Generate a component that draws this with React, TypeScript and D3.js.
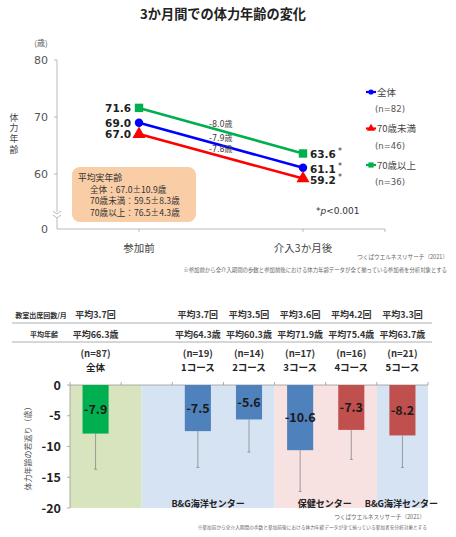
import React from "react";
import * as d3 from "d3";

// ---------- Top chart data ----------
const timeCats = ["参加前", "介入3か月後"];
const groupNames = ["全体", "70歳未満", "70歳以上"];
const groupN = [82, 46, 36];
const beforeVals = [69.0, 67.0, 71.6];
const afterVals = [61.1, 59.2, 63.6];
const diffVals = [-7.9, -7.8, -8.0];
const topTicks = [60, 70, 80];
const realAgeLines = ["全体：67.0±10.9歳", "70歳未満：59.5±8.3歳", "70歳以上：76.5±4.3歳"];

// ---------- Bottom chart data ----------
const slots = ["全体", "_gap", "1コース", "2コース", "3コース", "4コース", "5コース"];
const barCats = ["全体", "1コース", "2コース", "3コース", "4コース", "5コース"];
const barVals = [-7.9, -7.5, -5.6, -10.6, -7.3, -8.2];
const barErrLow = [-13.7, -13.4, -10.9, -17.3, -12.1, -13.4];
const barN = [87, 19, 14, 17, 16, 21];
const attendance = ["平均3.7回", "平均3.7回", "平均3.5回", "平均3.6回", "平均4.2回", "平均3.3回"];
const meanAge = ["平均66.3歳", "平均64.3歳", "平均60.3歳", "平均71.9歳", "平均75.4歳", "平均63.7歳"];
const bottomTicks = [0, -5, -10, -15, -20];
const regionNames = ["", "B&G海洋センター", "保健センター", "B&G海洋センター"];
const regionStart = [0, 1.4, 4, 6];
const regionEnd = [1.4, 4, 6, 7];

const lineColors = ["#0000ff", "#ff0000", "#00b050"];
const barColors = ["#00b050", "#4f81bd", "#4f81bd", "#4f81bd", "#c0504d", "#c0504d"];
const regionColors = ["#d7e4bd", "#d6e3f3", "#f7e1e1", "#d6e3f3"];

const JP = "'Noto Sans CJK JP', sans-serif";
const NUM = "'DejaVu Sans', 'Noto Sans CJK JP', sans-serif";

function Marker({ i, x, y, s }: { i: number; x: number; y: number; s: number }) {
  const c = lineColors[i];
  if (i === 0) return <circle cx={x} cy={y} r={s} fill={c} />;
  if (i === 1)
    return <path d={d3.symbol(d3.symbolTriangle, s * s * 4.2)()!} transform={`translate(${x},${y})`} fill={c} />;
  return <rect x={x - s} y={y - s} width={s * 2} height={s * 2} fill={c} />;
}

export default function App() {
  // top scales
  const x = d3.scalePoint<string>().domain(timeCats).range([57, 385]).padding(0.5);
  const y = d3.scaleLinear().domain([60, 80]).range([174, 60]);
  const zeroY = 229;

  // bottom scales
  const xb = d3.scaleBand<string>().domain(slots).range([70, 428]).paddingInner(0.49).paddingOuter(0.245);
  const step = xb.step();
  const x0 = 70;
  const yb = d3.scaleLinear().domain([0, -20]).range([385, 508]);

  const x1 = x(timeCats[0])!;
  const x2 = x(timeCats[1])!;
  const xm = (x1 + x2) / 2;

  return (
    <svg width={456} height={537} style={{ position: "absolute", left: 0, top: 0, background: "#fff" }}>
      {/* ===== Top chart ===== */}
      <text x={223} y={19} textAnchor="middle" fontFamily={JP} fontWeight="bold" fontSize={13.2} fill="#222">
        3か月間での体力年齢の変化
      </text>
      <text x={41} y={46} textAnchor="middle" fontFamily={JP} fontSize={8} fill="#555">(歳)</text>
      {/* y axis */}
      <line x1={57} x2={57} y1={60} y2={212} stroke="#aaa" strokeWidth={0.8} />
      <line x1={57} x2={57} y1={218} y2={zeroY} stroke="#aaa" strokeWidth={0.8} />
      <path d="M53,211 L57,214 L61,211 M53,215 L57,218 L61,215" fill="none" stroke="#aaa" strokeWidth={0.8} />
      {topTicks.map((t) => (
        <g key={t}>
          <line x1={54} x2={57} y1={y(t)} y2={y(t)} stroke="#aaa" strokeWidth={0.8} />
          <text x={48} y={y(t) + 4} textAnchor="end" fontFamily={NUM} fontSize={11} fill="#555">{t}</text>
        </g>
      ))}
      <text x={48} y={zeroY + 4} textAnchor="end" fontFamily={NUM} fontSize={11} fill="#555">0</text>
      {/* x axis */}
      <line x1={57} x2={385} y1={zeroY} y2={zeroY} stroke="#aaa" strokeWidth={0.8} />
      {[...timeCats.map((c) => x(c)!), 385].map((p, i) => (
        <line key={i} x1={p} x2={p} y1={zeroY} y2={zeroY + 3} stroke="#aaa" strokeWidth={0.8} />
      ))}
      {timeCats.map((c) => (
        <text key={c} x={x(c)!} y={252} textAnchor="middle" fontFamily={JP} fontSize={10.5} fill="#444">{c}</text>
      ))}
      {/* y title (vertical writing) */}
      <text x={14} y={113} fontFamily={JP} fontSize={8.8} fill="#444"
        style={{ writingMode: "vertical-rl", letterSpacing: "1.9px" }}>
        体力年齢
      </text>
      {/* real-age box */}
      <rect x={72} y={167} width={124} height={55} rx={8} fill="#f9cda6" />
      <text x={78} y={180.5} fontFamily={JP} fontSize={8.8} fill="#333">平均実年齢</text>
      {realAgeLines.map((l, i) => (
        <text key={i} x={90} y={192.5 + i * 11.5} fontFamily={JP} fontSize={8.6} fill="#333">{l}</text>
      ))}
      {/* lines */}
      {groupNames.map((g, i) => (
        <g key={g}>
          <line x1={x1} y1={y(beforeVals[i])} x2={x2} y2={y(afterVals[i])} stroke={lineColors[i]} strokeWidth={2.6} />
          <Marker i={i} x={x1} y={y(beforeVals[i])} s={4.2} />
          <Marker i={i} x={x2} y={y(afterVals[i])} s={4.2} />
          <text x={131} y={y(beforeVals[i]) + 4} textAnchor="end" fontFamily={NUM} fontWeight="bold" fontSize={10.5} fill="#222">
            {beforeVals[i].toFixed(1)}
          </text>
          <text x={310} y={y(afterVals[i]) + 5} fontFamily={NUM} fontWeight="bold" fontSize={10.5} fill="#222">
            {afterVals[i].toFixed(1)}
          </text>
          <text x={338} y={y(afterVals[i]) + 1} fontFamily={NUM} fontSize={8} fill="#333">*</text>
          <text x={xm - 12} y={(y(beforeVals[i]) + y(afterVals[i])) / 2 - 4} fontFamily={NUM} fontSize={8} fill="#444">
            {diffVals[i].toFixed(1)}歳
          </text>
        </g>
      ))}
      <text x={316} y={214} fontFamily={NUM} fontSize={9} fill="#333">
        *<tspan fontStyle="italic">p</tspan>&lt;0.001
      </text>
      {/* legend */}
      {groupNames.map((g, i) => {
        const ly = 92 + i * 36.5;
        return (
          <g key={g}>
            <line x1={366} x2={376} y1={ly} y2={ly} stroke={lineColors[i]} strokeWidth={2.2} />
            <Marker i={i} x={371} y={ly} s={2.6} />
            <text x={377} y={ly + 3.5} fontFamily={JP} fontSize={9.5} fill="#444">{g}</text>
            <text x={375} y={ly + 20} fontFamily={NUM} fontSize={8.5} fill="#555">(n={groupN[i]})</text>
          </g>
        );
      })}
      <text x={448} y={259} textAnchor="end" fontFamily={JP} fontSize={5.6} fill="#666">つくばウエルネスリサーチ（2021）</text>
      <text x={447} y={272} textAnchor="end" fontFamily={JP} fontSize={5.4} fill="#666">
        ※参加前から全介入期間の歩数と参加前後における体力年齢データが全て揃っている参加者を分析対象とする
      </text>

      {/* ===== Bottom chart ===== */}
      {/* header table */}
      <text x={41} y={318} textAnchor="middle" fontFamily={JP} fontWeight="bold" fontSize={7} fill="#333">教室出席回数/月</text>
      <text x={44} y={337} textAnchor="middle" fontFamily={JP} fontWeight="bold" fontSize={7} fill="#333">平均年齢</text>
      <line x1={12} x2={432} y1={323} y2={323} stroke="#999" strokeWidth={0.8} />
      <line x1={12} x2={432} y1={342} y2={342} stroke="#999" strokeWidth={0.8} />
      {barCats.map((c, i) => {
        const cx = xb(c)! + xb.bandwidth() / 2;
        return (
          <g key={c}>
            <text x={cx} y={318} textAnchor="middle" fontFamily={JP} fontWeight="bold" fontSize={9} fill="#333">{attendance[i]}</text>
            <text x={cx} y={337.5} textAnchor="middle" fontFamily={JP} fontWeight="bold" fontSize={9} fill="#333">{meanAge[i]}</text>
            <text x={cx} y={356.5} textAnchor="middle" fontFamily={JP} fontWeight="bold" fontSize={9.5} fill="#333">(n={barN[i]})</text>
            <text x={cx} y={371} textAnchor="middle" fontFamily={JP} fontWeight="bold" fontSize={9.5} fill="#222">{c}</text>
          </g>
        );
      })}
      {/* backgrounds */}
      {regionNames.map((r, i) => (
        <rect key={i} x={x0 + regionStart[i] * step} y={yb(0)} width={(regionEnd[i] - regionStart[i]) * step}
          height={yb(-20) - yb(0)} fill={regionColors[i]} />
      ))}
      {/* axes */}
      <line x1={x0} x2={x0} y1={yb(0)} y2={yb(-20)} stroke="#999" strokeWidth={0.8} />
      <line x1={x0} x2={428} y1={yb(0)} y2={yb(0)} stroke="#999" strokeWidth={0.8} />
      {d3.range(0, 8).map((k) => (
        <line key={k} x1={x0 + k * step} x2={x0 + k * step} y1={yb(0) - 3} y2={yb(0)} stroke="#999" strokeWidth={0.8} />
      ))}
      {bottomTicks.map((t) => (
        <g key={t}>
          <line x1={x0 - 3} x2={x0} y1={yb(t)} y2={yb(t)} stroke="#999" strokeWidth={0.8} />
          <text x={61} y={yb(t) + 4.5} textAnchor="end" fontFamily={JP} fontWeight="bold" fontSize={12.5} fill="#222">{t}</text>
        </g>
      ))}
      <text transform={`translate(31,${yb(-10)}) rotate(-90)`} textAnchor="middle" fontFamily={JP} fontSize={8} fill="#555">
        体力年齢の若返り（歳）
      </text>
      {/* bars */}
      {barCats.map((c, i) => {
        const bx = xb(c)!;
        const bw = xb.bandwidth();
        const cx = bx + bw / 2;
        return (
          <g key={c}>
            <line x1={cx} x2={cx} y1={yb(barVals[i])} y2={yb(barErrLow[i])} stroke="#888" strokeWidth={0.8} />
            <line x1={cx - 1.5} x2={cx + 1.5} y1={yb(barErrLow[i])} y2={yb(barErrLow[i])} stroke="#888" strokeWidth={0.8} />
            <rect x={bx} y={yb(0)} width={bw} height={yb(barVals[i]) - yb(0)} fill={barColors[i]} />
            <text x={cx} y={(yb(0) + yb(barVals[i])) / 2 + 4.5} textAnchor="middle" fontFamily={JP} fontWeight="bold" fontSize={12.5} fill="#1a1a1a">
              {barVals[i].toFixed(1)}
            </text>
          </g>
        );
      })}
      {regionNames.map((r, i) =>
        r ? (
          <text key={i} x={x0 + ((regionStart[i] + regionEnd[i]) / 2) * step - (i === 1 ? 0 : 1)} y={507}
            textAnchor="middle" fontFamily={JP} fontWeight="bold" fontSize={9} fill="#222">
            {r}
          </text>
        ) : null
      )}
      <text x={425} y={519} textAnchor="end" fontFamily={JP} fontSize={5.6} fill="#666">つくばウエルネスリサーチ（2021）</text>
      <text x={427} y={529} textAnchor="end" fontFamily={JP} fontSize={4.7} fill="#666">
        ※参加前から全介入期間の歩数と参加前後における体力年齢データが全て揃っている参加者を分析対象とする
      </text>
    </svg>
  );
}
